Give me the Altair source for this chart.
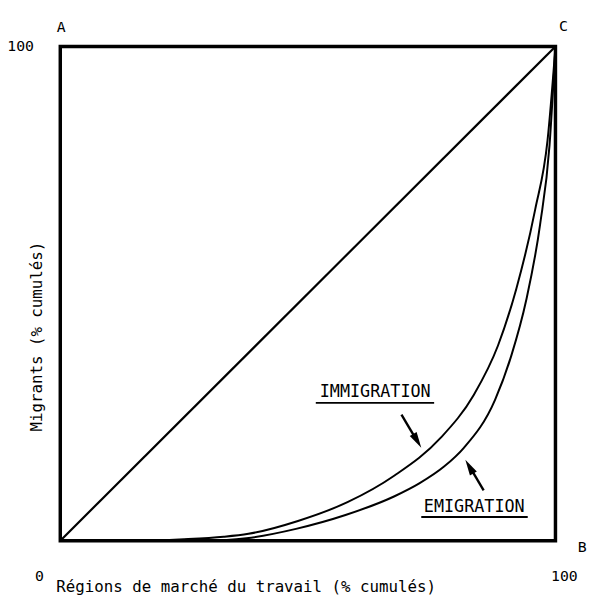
import altair as alt
import pandas as pd

# Cumulative curves (x = % of labour-market regions, y = % of migrants)
imm_x = [0, 15, 25, 33, 38, 48, 58, 67.5, 76.8, 83.5, 88.4, 92.1, 95.9, 98.4, 100]
imm_y = [0, 0, 0.3, 0.8, 1.4, 4.0, 7.8, 13.2, 20.8, 29.5, 39.5, 51.0, 67.0, 81.0, 100]

emi_x = [0, 20, 30, 37.6, 47.6, 57.6, 67.5, 72.5, 77.5, 81.5, 87.8, 91.1, 94.1, 96.9, 98.8, 100]
emi_y = [0, 0, 0, 0.5, 2.4, 5.2, 9.0, 11.6, 15.0, 18.8, 28.5, 37.5, 48.7, 64.0, 80.0, 100]

diag_x = [0, 100]
diag_y = [0, 100]

FONT = "DejaVu Sans Mono"
one = alt.Data(values=[{}])

xs = alt.Scale(domain=[0, 100], nice=False, zero=False)
ys = alt.Scale(domain=[0, 100], nice=False, zero=False)

diag = alt.Chart(pd.DataFrame({"x": diag_x, "y": diag_y})).mark_line(
    color="black", strokeWidth=2.2
).encode(x=alt.X("x:Q", scale=xs, axis=None), y=alt.Y("y:Q", scale=ys, axis=None))

imm = alt.Chart(pd.DataFrame({"x": imm_x, "y": imm_y})).mark_line(
    color="black", strokeWidth=2, interpolate="monotone"
).encode(x="x:Q", y="y:Q")

emi = alt.Chart(pd.DataFrame({"x": emi_x, "y": emi_y})).mark_line(
    color="black", strokeWidth=2, interpolate="monotone"
).encode(x="x:Q", y="y:Q")


def label(text, x, y, size=15, align="center", baseline="middle", angle=0):
    return alt.Chart(one).mark_text(
        text=text, font=FONT, fontSize=size, align=align, baseline=baseline,
        angle=angle, color="black"
    ).encode(x=alt.datum(x), y=alt.datum(y))


def rule(x, y, x2, y2, w=2):
    return alt.Chart(one).mark_rule(color="black", strokeWidth=w).encode(
        x=alt.datum(x), y=alt.datum(y), x2=alt.datum(x2), y2=alt.datum(y2)
    )


HEAD = "M0,0L0.5,2L-0.5,2Z"


def head(x, y, angle):
    return alt.Chart(one).mark_point(
        shape=HEAD, filled=True, color="black", size=260, angle=angle, opacity=1
    ).encode(x=alt.datum(x), y=alt.datum(y))


layers = [
    diag, imm, emi,
    label("A", 0.2, 104),
    label("C", 101.6, 104.2),
    label("B", 105.4, -1.2),
    label("100", -8, 100),
    label("0", -4.2, -7.2),
    label("100", 101.8, -7.2),
    label("Régions de marché du travail (% cumulés)", -0.8, -9.4, size=16, align="left"),
    label("Migrants (% cumulés)", -4.6, 41.3, size=16, angle=270),
    label("IMMIGRATION", 63.6, 30.1, size=17),
    rule(51.6, 27.9, 75.5, 27.9, 1.8),
    rule(68.9, 25.5, 71.8, 20.6, 2.4),
    head(72.9, 18.8, 149.5),
    label("EMIGRATION", 83.6, 6.8, size=17),
    rule(72.9, 4.8, 94.4, 4.8, 1.8),
    rule(85.5, 10.2, 82.9, 14.6, 2.4),
    head(81.8, 16.4, 329.7),
]

chart = alt.layer(*layers).properties(
    width=502, height=501,
    background="white",
    autosize=alt.AutoSizeParams(type="none"),
    padding={"left": 53, "top": 35, "right": 34, "bottom": 52},
).configure_view(stroke="black", strokeWidth=3.5)

chart.save("out.html", embed_options={"renderer": "svg", "actions": False})
